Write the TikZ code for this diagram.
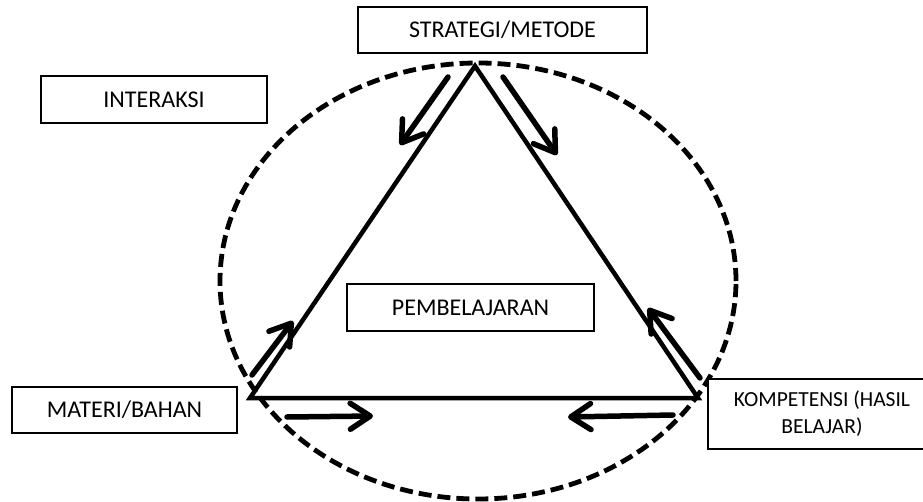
\documentclass[tikz,border=0pt]{standalone}
\usepackage{fontspec}
\setmainfont{Carlito}
\usetikzlibrary{arrows.meta,shapes.geometric}
\begin{document}
\begin{tikzpicture}[x=1pt,y=-1pt,
  labelbox/.style={draw=black,line width=1.6pt,fill=white,align=center,
    inner sep=0pt,font=\fontsize{24}{28}\selectfont},
  edge/.style={line width=4.5pt,line join=miter},
  flow/.style={line width=5.5pt,line cap=round,
    -{Straight Barb[length=20pt,width=26pt,round]}},
  ring/.style={line width=4.8pt,dash pattern=on 13pt off 6pt}]
\clip (0,0) rectangle (923,502);
\fill[white] (0,0) rectangle (923,502);
% triangle
\coordinate (T) at (475,66);
\coordinate (L) at (250,398);
\coordinate (R) at (698,398);
\draw[edge] (T) -- (L) -- (R) -- cycle;
% dashed ellipse
\node[ring,draw,ellipse,minimum width=516pt,minimum height=436pt,inner sep=0pt] (ring) at (478,281) {};
% arrows
\coordinate (a1s) at (448,77);  \coordinate (a1e) at (400,145);
\coordinate (a2s) at (503,77);  \coordinate (a2e) at (557,155);
\coordinate (a3s) at (252,375); \coordinate (a3e) at (293,321);
\coordinate (a4s) at (287,417); \coordinate (a4e) at (373,416);
\coordinate (a5s) at (673,415); \coordinate (a5e) at (568,417);
\coordinate (a6s) at (700,378); \coordinate (a6e) at (648,308);
\draw[flow] (a1s) -- (a1e);
\draw[flow] (a2s) -- (a2e);
\draw[flow] (a3s) -- (a3e);
\draw[flow] (a4s) -- (a4e);
\draw[flow] (a5s) -- (a5e);
\draw[flow] (a6s) -- (a6e);
% boxes
\node[labelbox,minimum width=289pt,minimum height=46pt] (strat) at (502.5,30) {STRATEGI/METODE};
\node[labelbox,minimum width=226pt,minimum height=47pt] (inter) at (154,99.5) {INTERAKSI};
\node[labelbox,minimum width=247pt,minimum height=47pt] (pemb) at (470.5,307.5) {PEMBELAJARAN};
\node[labelbox,minimum width=225pt,minimum height=46pt] (mat) at (124.5,410) {MATERI/BAHAN};
\node[labelbox,minimum width=228pt,minimum height=70pt,font=\fontsize{21.5}{27}\selectfont] (komp) at (822,414) {KOMPETENSI (HASIL\\BELAJAR)};
\end{tikzpicture}
\end{document}
